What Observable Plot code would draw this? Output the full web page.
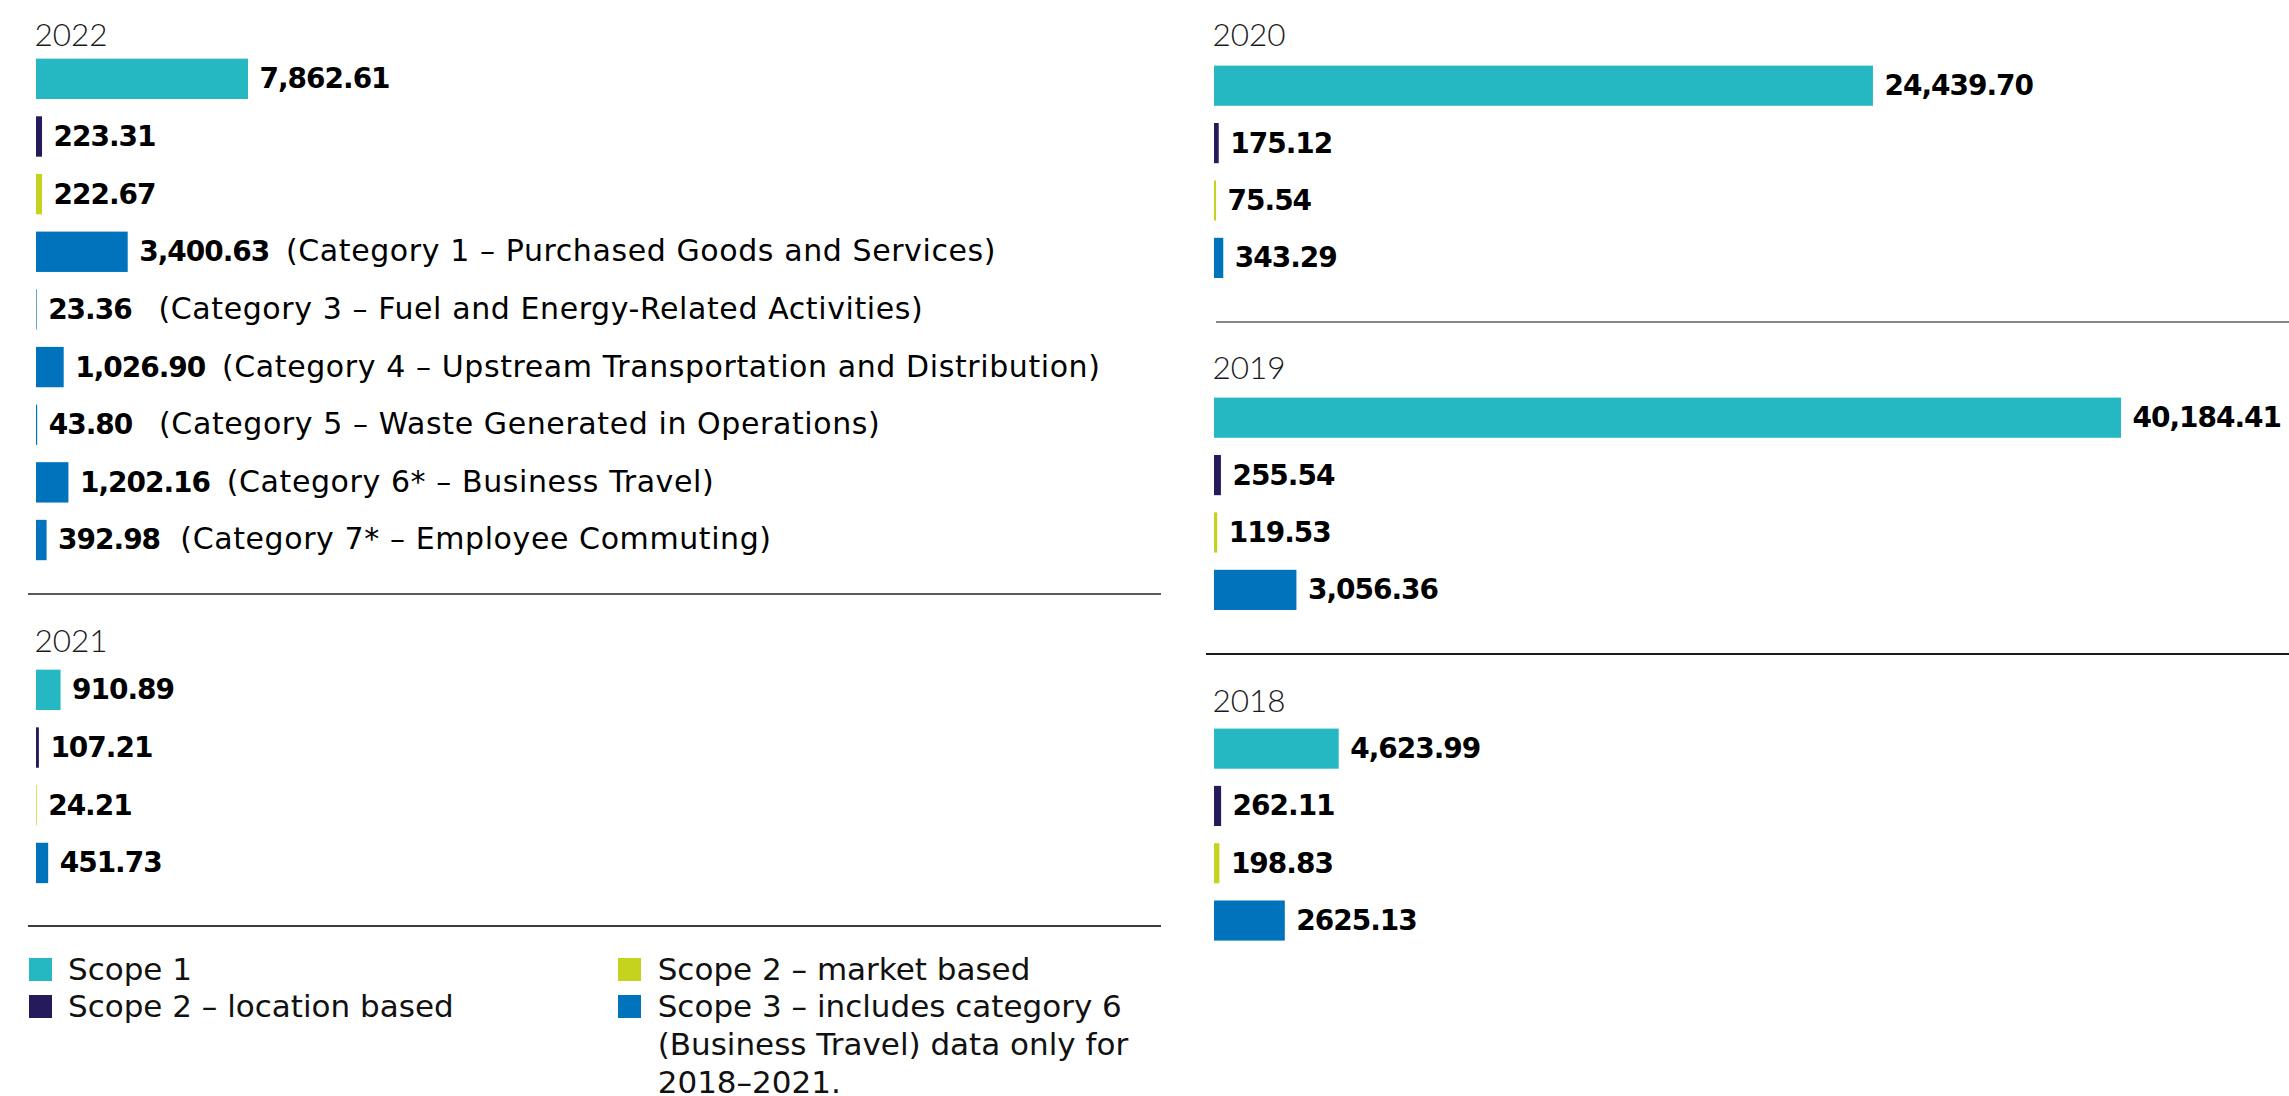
<!DOCTYPE html>
<html>
<head>
<meta charset="utf-8">
<script src="https://cdn.jsdelivr.net/npm/d3@7"></script>
<script src="https://cdn.jsdelivr.net/npm/@observablehq/plot@0.6"></script>
<style>
  html, body { margin: 0; padding: 0; background: #fff; }
  #root { position: relative; width: 2289px; height: 1096px; overflow: hidden; font-family: "DejaVu Sans", sans-serif; color: #111; }
  .year { position: absolute; font-family: Lato, sans-serif; font-weight: 300; font-size: 31.5px; line-height: 31px; color: #1a1a1a; white-space: nowrap; }
  .sep { position: absolute; height: 2px; }
  .chart { position: absolute; }
  .chart svg { overflow: visible; }
  .leg { position: absolute; font-family: "DejaVu Sans", sans-serif; font-size: 31px; line-height: 37.8px; color: #111; white-space: pre-line; }
  .sw { position: absolute; width: 23px; height: 23px; }
</style>
</head>
<body>
<div id="root"></div>
<script>
// ---------------- data ----------------
const scopeNames = ["Scope 1", "Scope 2 – location based", "Scope 2 – market based", "Scope 3"];
const scopeColors = ["#26b8c2", "#251b5c", "#c5d31e", "#0073bd"];

const rowScopes = [0, 1, 2, 3];
const rowScopes2022 = [0, 1, 2, 3, 3, 3, 3, 3, 3];

const values2022 = [7862.61, 223.31, 222.67, 3400.63, 23.36, 1026.90, 43.80, 1202.16, 392.98];
const labels2022 = ["7,862.61", "223.31", "222.67", "3,400.63", "23.36", "1,026.90", "43.80", "1,202.16", "392.98"];
const notes2022 = [
  "", "", "",
  " \u2009(Category 1 – Purchased Goods and Services)",
  "  \u2009(Category 3 – Fuel and Energy-Related Activities)",
  " \u2009(Category 4 – Upstream Transportation and Distribution)",
  "  \u2009(Category 5 – Waste Generated in Operations)",
  " \u2009(Category 6* – Business Travel)",
  "  (Category 7* – Employee Commuting)"
];

const values2021 = [910.89, 107.21, 24.21, 451.73];
const labels2021 = ["910.89", "107.21", "24.21", "451.73"];

const values2020 = [24439.70, 175.12, 75.54, 343.29];
const labels2020 = ["24,439.70", "175.12", "75.54", "343.29"];

const values2019 = [40184.41, 255.54, 119.53, 3056.36];
const labels2019 = ["40,184.41", "255.54", "119.53", "3,056.36"];

const values2018 = [4623.99, 262.11, 198.83, 2625.13];
const labels2018 = ["4,623.99", "262.11", "198.83", "2625.13"];

const legendLabels = [
  "Scope 1",
  "Scope 2 – location based",
  "Scope 2 – market based",
  "Scope 3 – includes category 6\n(Business Travel) data only for\n2018–2021."
];

// ---------------- layout ----------------
const xDomain = [0, 33640];   // bars beyond this are drawn truncated, as in the original
const xRange = [0, 907];

const panels = [
  {year: "2022", values: values2022, labels: labels2022, scopes: rowScopes2022, notes: notes2022, left: 36, top: 49.7, step: 57.65, width: 1124, titleLeft: 34.5, titleTop: 19},
  {year: "2021", values: values2021, labels: labels2021, scopes: rowScopes, notes: null, left: 36, top: 661, step: 57.7, width: 1124, titleLeft: 34.5, titleTop: 624.6},
  {year: "2020", values: values2020, labels: labels2020, scopes: rowScopes, notes: null, left: 1214, top: 57.3, step: 57.4, width: 1075, titleLeft: 1212.5, titleTop: 19},
  {year: "2019", values: values2019, labels: labels2019, scopes: rowScopes, notes: null, left: 1214, top: 388.8, step: 57.4, width: 1075, titleLeft: 1212.5, titleTop: 352.3},
  {year: "2018", values: values2018, labels: labels2018, scopes: rowScopes, notes: null, left: 1214, top: 719.5, step: 57.3, width: 1075, titleLeft: 1212.5, titleTop: 684.6}
];

const separators = [
  {left: 28, top: 593.3, width: 1133, color: "#5a5a5a"},
  {left: 28, top: 925, width: 1133, color: "#3c3c3c"},
  {left: 1216, top: 320.7, width: 1073, color: "#878787"},
  {left: 1206, top: 653.3, width: 1083, color: "#1a1a1a"}
];

const root = document.getElementById("root");

function yearChart(p) {
  const data = p.values.map((v, i) => ({
    row: i,
    value: v,
    label: p.labels[i],
    scope: scopeNames[p.scopes[i]]
  }));
  const n = p.values.length;
  const svg = Plot.plot({
    width: p.width,
    height: p.step * n,
    marginLeft: 0, marginRight: 0, marginTop: 0, marginBottom: 0,
    style: {fontFamily: "'DejaVu Sans', sans-serif", background: "transparent", overflow: "visible"},
    x: {domain: xDomain, range: xRange, clamp: true, axis: null},
    y: {type: "band", domain: d3.range(n), paddingInner: 0.3, paddingOuter: 0.15, round: false, axis: null},
    color: {domain: scopeNames, range: scopeColors},
    marks: [
      Plot.barX(data, {x: "value", y: "row", fill: "scope"}),
      Plot.text(data, {
        x: "value", y: "row", text: "label",
        textAnchor: "start", dx: 11, dy: 0,
        fontSize: 28, fontWeight: "bold", fill: "#000"
      })
    ]
  });
  d3.select(svg).selectAll("g[aria-label='text'] text")
    .attr("letter-spacing", "-1px")
    .style("white-space", "pre")
    .each(function(i) {
      const note = p.notes ? p.notes[i] : "";
      if (note) {
        d3.select(this).append("tspan")
          .attr("font-weight", "normal")
          .attr("font-size", 30)
          .attr("letter-spacing", "0.6px")
          .style("white-space", "pre")
          .text(note);
      }
    });
  return svg;
}

for (const p of panels) {
  const t = document.createElement("div");
  t.className = "year";
  t.style.left = p.titleLeft + "px";
  t.style.top = p.titleTop + "px";
  t.textContent = p.year;
  root.appendChild(t);

  const c = document.createElement("div");
  c.className = "chart";
  c.style.left = p.left + "px";
  c.style.top = p.top + "px";
  c.appendChild(yearChart(p));
  root.appendChild(c);
}

for (const s of separators) {
  const d = document.createElement("div");
  d.className = "sep";
  d.style.left = s.left + "px";
  d.style.top = s.top + "px";
  d.style.width = s.width + "px";
  d.style.background = s.color;
  root.appendChild(d);
}

// legend
const legendPos = [
  {sx: 29, tx: 68, top: 950.5},
  {sx: 29, tx: 68, top: 988.3},
  {sx: 618, tx: 657.7, top: 950.5},
  {sx: 618, tx: 657.7, top: 988.3}
];
legendLabels.forEach((lab, i) => {
  const pos = legendPos[i];
  const sw = document.createElement("div");
  sw.className = "sw";
  sw.style.left = pos.sx + "px";
  sw.style.top = (pos.top + 7) + "px";
  sw.style.background = scopeColors[i];
  root.appendChild(sw);
  const tx = document.createElement("div");
  tx.className = "leg";
  tx.style.left = pos.tx + "px";
  tx.style.top = pos.top + "px";
  tx.textContent = lab;
  root.appendChild(tx);
});
</script>
</body>
</html>
